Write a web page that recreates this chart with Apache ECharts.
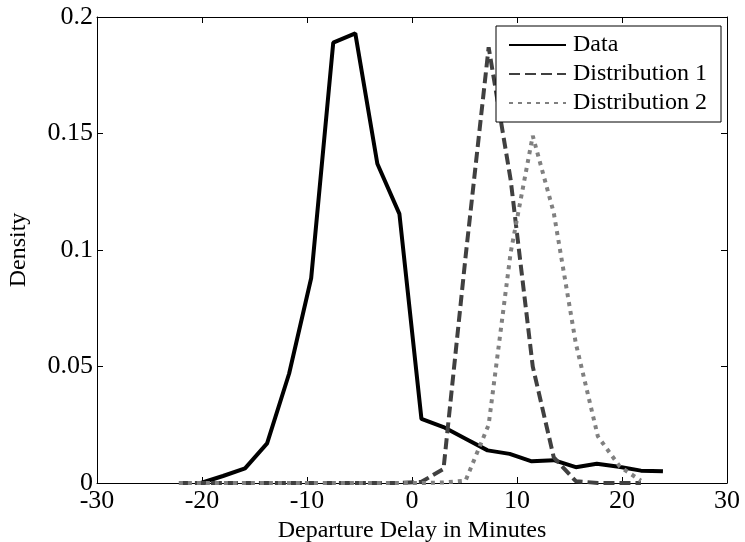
<!DOCTYPE html>
<html>
<head>
<meta charset="utf-8">
<script src="https://cdn.jsdelivr.net/npm/echarts@6/dist/echarts.min.js"></script>
<style>
  html, body { margin: 0; padding: 0; background: #fff; }
  #chart { width: 745px; height: 542px; }
</style>
</head>
<body>
<div id="chart"></div>
<script>
  // observed data (histogram density)
  var dataBins = [-20.1, -18.0, -15.9, -13.8, -11.7, -9.6, -7.5, -5.4, -3.3, -1.2, 0.9, 3.0, 5.1, 7.2, 9.3, 11.4, 13.5, 15.6, 17.6, 19.7, 21.8, 23.9];
  var dataDensity = [0, 0.003, 0.0063, 0.017, 0.047, 0.088, 0.189, 0.193, 0.137, 0.1155, 0.0275, 0.024, 0.019, 0.014, 0.0125, 0.0093, 0.0098, 0.0068, 0.0083, 0.007, 0.0053, 0.005];

  // fitted distributions
  var distBins = [-22.2, -20.1, -18.0, -15.9, -13.8, -11.7, -9.6, -7.5, -5.4, -3.3, -1.2, 0.9, 3.0, 5.1, 7.3, 9.4, 11.5, 13.5, 15.6, 17.7, 19.8, 21.8];
  var dist1 = [0, 0, 0, 0, 0, 0, 0, 0, 0, 0, 0, 0.0005, 0.006, 0.097, 0.187, 0.13, 0.05, 0.011, 0.0008, 0, 0, 0];
  var dist2 = [0, 0, 0, 0, 0, 0, 0, 0, 0, 0, 0, 0, 0.0002, 0.001, 0.025, 0.099, 0.149, 0.116, 0.06, 0.02, 0.007, 0.001];

  var seriesNames = ['Data', 'Distribution 1', 'Distribution 2'];
  var xTicks = [-30, 30, 10];
  var yTicks = [0, 0.2, 0.05];

  var font = "'Liberation Serif', 'Times New Roman', serif";

  function pairs(xs, ys) {
    return xs.map(function (x, i) { return [x, ys[i]]; });
  }

  var chart = echarts.init(document.getElementById('chart'));

  var baseX = {
    type: 'value',
    min: xTicks[0],
    max: xTicks[1],
    interval: xTicks[2],
    splitLine: { show: false },
    axisLine: { onZero: false, lineStyle: { color: '#000', width: 1 } },
    axisTick: { inside: true, length: 6, lineStyle: { color: '#000' } }
  };
  var baseY = {
    type: 'value',
    min: yTicks[0],
    max: yTicks[1],
    interval: yTicks[2],
    splitLine: { show: false },
    axisLine: { show: true, onZero: false, lineStyle: { color: '#000', width: 1 } },
    axisTick: { show: true, inside: true, length: 6, lineStyle: { color: '#000' } }
  };

  chart.setOption({
    animation: false,
    backgroundColor: '#fff',
    textStyle: { fontFamily: font },
    grid: { left: 97, right: 18, top: 17, bottom: 59, containLabel: false, outerBoundsMode: 'none' },
    legend: {
      orient: 'vertical',
      left: 496,
      top: 26,
      data: seriesNames,
      itemWidth: 57,
      itemHeight: 24,
      itemGap: 5,
      padding: [7, 14, 7, 12],
      backgroundColor: '#fff',
      borderColor: '#000',
      borderWidth: 1,
      itemStyle: { opacity: 0 },
      textStyle: { fontFamily: font, fontSize: 24, color: '#000', padding: [0, 0, 0, 2] }
    },
    xAxis: [
      Object.assign({}, baseX, {
        position: 'bottom',
        name: 'Departure Delay in Minutes',
        nameLocation: 'middle',
        nameGap: 33,
        nameTextStyle: { fontFamily: font, fontSize: 24, color: '#000' },
        axisLabel: { fontFamily: font, fontSize: 26, color: '#000', margin: 5 }
      }),
      Object.assign({}, baseX, { position: 'top', axisLabel: { show: false } })
    ],
    yAxis: [
      Object.assign({}, baseY, {
        position: 'left',
        name: 'Density',
        nameLocation: 'middle',
        nameGap: 66,
        nameTextStyle: { fontFamily: font, fontSize: 24, color: '#000' },
        axisLabel: { fontFamily: font, fontSize: 26, color: '#000', margin: 4 }
      }),
      Object.assign({}, baseY, { position: 'right', axisLabel: { show: false } })
    ],
    series: [
      {
        name: seriesNames[0],
        type: 'line',
        data: pairs(dataBins, dataDensity),
        symbol: 'none',
        color: '#000',
        lineStyle: { color: '#000', width: 4 }
      },
      {
        name: seriesNames[1],
        type: 'line',
        data: pairs(distBins, dist1),
        symbol: 'none',
        color: '#404040',
        lineStyle: { color: '#404040', width: 4, type: [11, 5] }
      },
      {
        name: seriesNames[2],
        type: 'line',
        data: pairs(distBins, dist2),
        symbol: 'none',
        color: '#808080',
        lineStyle: { color: '#808080', width: 4, type: [4, 5] }
      }
    ]
  });
</script>
</body>
</html>
